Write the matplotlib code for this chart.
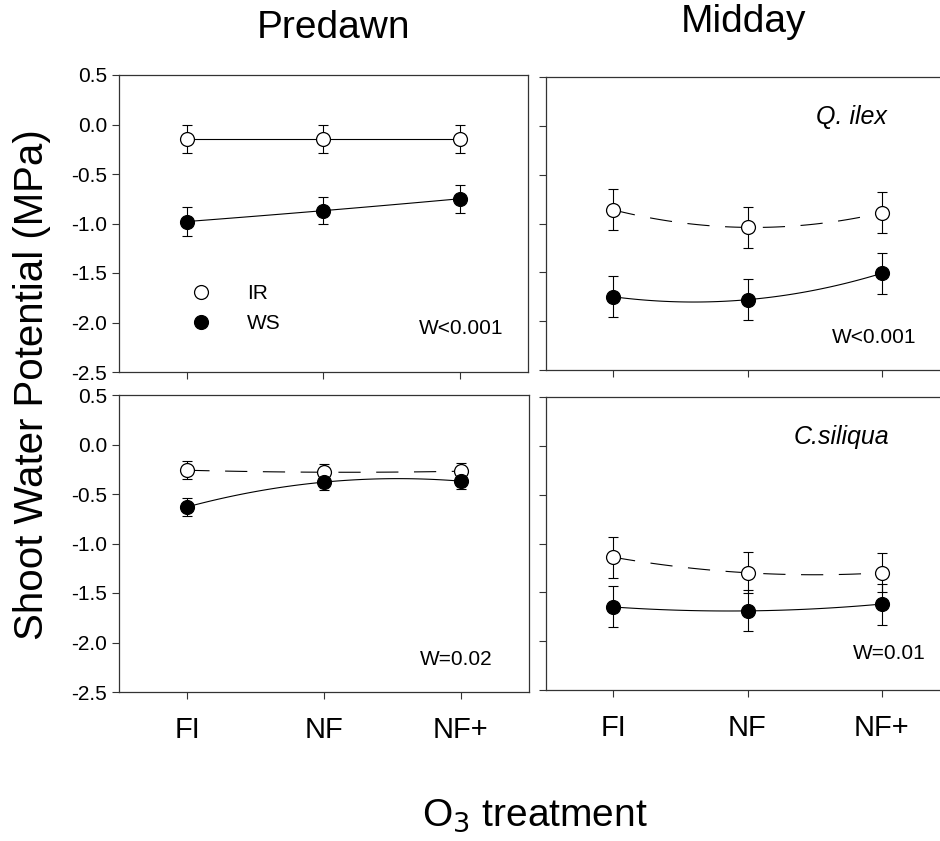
import numpy as np
import matplotlib
matplotlib.use("Agg")
import matplotlib.pyplot as plt

plt.rcParams['font.family'] = ['Liberation Sans', 'DejaVu Sans']

# O3 treatments
treatments = ['FI', 'NF', 'NF+']

# Predawn, Q. ilex
pd_qi_ir = [-0.15, -0.15, -0.15]
pd_qi_ir_se = [0.14, 0.14, 0.14]
pd_qi_ws = [-0.98, -0.87, -0.75]
pd_qi_ws_se = [0.15, 0.14, 0.14]

# Midday, Q. ilex
md_qi_ir = [-0.86, -1.04, -0.89]
md_qi_ir_se = [0.21, 0.21, 0.21]
md_qi_ws = [-1.75, -1.78, -1.51]
md_qi_ws_se = [0.21, 0.21, 0.21]

# Predawn, C. siliqua
pd_cs_ir = [-0.26, -0.28, -0.27]
pd_cs_ir_se = [0.09, 0.08, 0.08]
pd_cs_ws = [-0.63, -0.38, -0.37]
pd_cs_ws_se = [0.09, 0.08, 0.08]

# Midday, C. siliqua
md_cs_ir = [-1.14, -1.30, -1.30]
md_cs_ir_se = [0.21, 0.21, 0.20]
md_cs_ws = [-1.65, -1.69, -1.62]
md_cs_ws_se = [0.21, 0.21, 0.21]

W, H = 940, 841
dpi = 100
fig = plt.figure(figsize=(W / dpi, H / dpi), dpi=dpi)


def box(x0, y0, x1, y1):
    # pixel box -> figure fraction
    return [x0 / W, 1 - y1 / H, (x1 - x0) / W, (y1 - y0) / H]


def curve(ax, y, dashed):
    # smooth line through the three points (like SigmaPlot spline)
    xs = np.arange(1, len(y) + 1)
    c = np.polyfit(xs, y, 2)
    xx = np.linspace(1, len(y), 100)
    ls = dict(color='black', lw=0.8)
    if dashed:
        ax.plot(xx, np.polyval(c, xx), dashes=(20, 14), **ls, zorder=2)
    else:
        ax.plot(xx, np.polyval(c, xx), **ls, zorder=2)


def series(ax, y, err, filled, dashed):
    xs = np.arange(1, len(y) + 1)
    curve(ax, y, dashed)
    ax.errorbar(xs, y, yerr=err, fmt='none', ecolor='black', elinewidth=0.8,
                capsize=3.6, capthick=0.8, zorder=3)
    ax.plot(xs, y, 'o', ms=10, mec='black', mew=0.9,
            mfc='black' if filled else 'white', ls='none', zorder=4)


def setup(ax, ylabels, xlabels):
    ax.set_xlim(0.5, 3.5)
    ax.set_ylim(-2.5, 0.5)
    ax.set_yticks(np.arange(-2.5, 0.51, 0.5))
    ax.set_xticks([1, 2, 3])
    ax.tick_params(direction='out', length=5, width=0.8, color='#333333')
    if ylabels:
        ax.set_yticklabels(['%.1f' % v for v in np.arange(-2.5, 0.51, 0.5)], fontsize=15)
    else:
        ax.set_yticklabels([])
    if xlabels:
        ax.set_xticklabels(treatments, fontsize=21)
        ax.tick_params(axis='x', pad=12)
    else:
        ax.set_xticklabels([])
    for s in ax.spines.values():
        s.set_linewidth(0.9)
        s.set_color('#333333')


ax1 = fig.add_axes(box(119, 75, 528, 372))
ax2 = fig.add_axes(box(546, 77, 949, 370))
ax3 = fig.add_axes(box(119, 395, 529, 692))
ax4 = fig.add_axes(box(546, 397, 949, 690))

setup(ax1, True, False)
setup(ax2, False, False)
setup(ax3, True, True)
setup(ax4, False, True)

series(ax1, pd_qi_ir, pd_qi_ir_se, False, False)
series(ax1, pd_qi_ws, pd_qi_ws_se, True, False)
series(ax2, md_qi_ir, md_qi_ir_se, False, True)
series(ax2, md_qi_ws, md_qi_ws_se, True, False)
series(ax3, pd_cs_ir, pd_cs_ir_se, False, True)
series(ax3, pd_cs_ws, pd_cs_ws_se, True, False)
series(ax4, md_cs_ir, md_cs_ir_se, False, True)
series(ax4, md_cs_ws, md_cs_ws_se, True, False)

# legend
ax1.legend(handles=[
    plt.Line2D([], [], marker='o', ls='none', ms=10, mfc='white', mec='black', mew=0.9, label='IR'),
    plt.Line2D([], [], marker='o', ls='none', ms=10, mfc='black', mec='black', mew=0.9, label='WS')],
    loc='upper left', bbox_to_anchor=(0.13, 0.325), frameon=False, fontsize=15,
    handletextpad=1.2, labelspacing=0.55, borderaxespad=0)

# stats / species labels
ax1.text(0.94, 0.146, 'W<0.001', transform=ax1.transAxes, ha='right', va='center', fontsize=15)
ax2.text(0.920, 0.11, 'W<0.001', transform=ax2.transAxes, ha='right', va='center', fontsize=15)
ax3.text(0.91, 0.11, 'W=0.02', transform=ax3.transAxes, ha='right', va='center', fontsize=15)
ax4.text(0.941, 0.125, 'W=0.01', transform=ax4.transAxes, ha='right', va='center', fontsize=15)
ax2.text(0.846, 0.865, 'Q. ilex', transform=ax2.transAxes, ha='right', va='center',
         fontsize=18, style='italic')
ax4.text(0.851, 0.865, 'C.siliqua', transform=ax4.transAxes, ha='right', va='center',
         fontsize=18, style='italic')

# titles and axis labels
fig.text(333 / W, 1 - 28 / H, 'Predawn', ha='center', va='center', fontsize=28)
fig.text(744 / W, 1 - 22 / H, 'Midday', ha='center', va='center', fontsize=28)
fig.text(32 / W, 1 - 385 / H, 'Shoot Water Potential (MPa)', ha='center', va='center',
         rotation=90, fontsize=29)
fig.text(535 / W, 1 - 816 / H, r'O$_3$ treatment', ha='center', va='center', fontsize=28)

fig.savefig('out.png', dpi=dpi)
